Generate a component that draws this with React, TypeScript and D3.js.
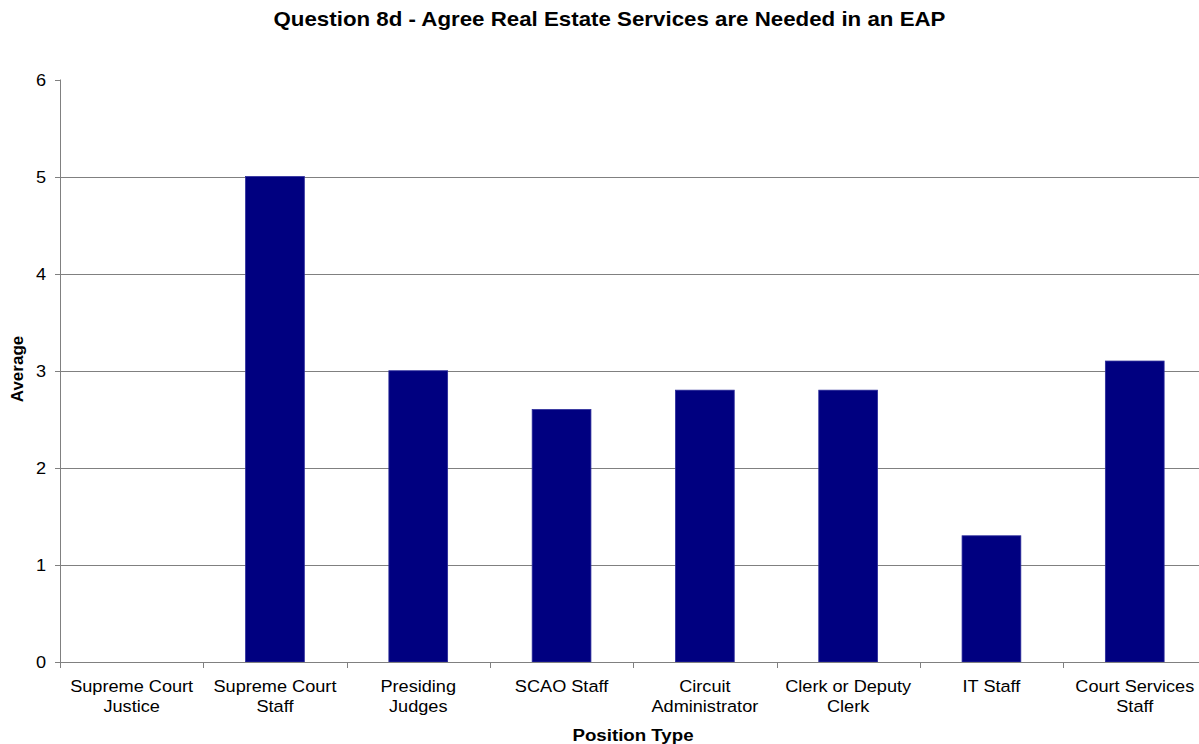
import React, { useEffect, useRef } from "react";
import * as d3 from "d3";

const categories = [
  "Supreme Court\nJustice",
  "Supreme Court\nStaff",
  "Presiding\nJudges",
  "SCAO Staff",
  "Circuit\nAdministrator",
  "Clerk or Deputy\nClerk",
  "IT Staff",
  "Court Services\nStaff",
];
const values = [0, 5, 3, 2.6, 2.8, 2.8, 1.3, 3.1];
const yTicks = [0, 1, 2, 3, 4, 5, 6];
const title = "Question 8d - Agree Real Estate Services are Needed in an EAP";
const xTitle = "Position Type";
const yTitle = "Average";

const W = 1199;
const H = 744;
const FONT = "'Liberation Sans', Arial, sans-serif";
const SX = 1.1;

export default function App() {
  const ref = useRef<SVGSVGElement>(null);
  useEffect(() => {
    document.body.style.margin = "0";
    const svg = d3.select(ref.current);
    svg.selectAll("*").remove();
    const left = 60;
    const right = 1206.4;
    const x = d3.scaleBand<string>().domain(categories).range([left, right]).padding(0);
    const y = d3.scaleLinear().domain([0, 6]).range([662, 79.5]);
    const gridColor = "#808080";

    svg.append("rect").attr("width", W).attr("height", H).attr("fill", "#fff");

    // gridlines
    svg
      .append("g")
      .selectAll("line")
      .data(yTicks.filter((t) => t > 0 && t < 6))
      .join("line")
      .attr("x1", left)
      .attr("x2", right)
      .attr("y1", (d) => Math.round(y(d)) + 0.5)
      .attr("y2", (d) => Math.round(y(d)) + 0.5)
      .attr("stroke", gridColor)
      .attr("stroke-width", 1);

    // bars
    const bw = x.bandwidth() * 0.41;
    svg
      .append("g")
      .selectAll("rect")
      .data(values.map((v, i) => ({ v, c: categories[i] })).filter((d) => d.v > 0))
      .join("rect")
      .attr("x", (d) => (x(d.c) as number) + x.bandwidth() / 2 - bw / 2)
      .attr("y", (d) => y(d.v))
      .attr("width", bw)
      .attr("height", (d) => y(0) - y(d.v))
      .attr("fill", "#000080")
      .attr("stroke", "#2a2a9a")
      .attr("stroke-width", 0.8);

    // y axis
    const ya = svg.append("g");
    ya.append("line")
      .attr("x1", left + 0.5)
      .attr("x2", left + 0.5)
      .attr("y1", y(6))
      .attr("y2", y(0))
      .attr("stroke", gridColor);
    ya.selectAll("line.t")
      .data(yTicks)
      .join("line")
      .attr("class", "t")
      .attr("x1", left - 5)
      .attr("x2", left)
      .attr("y1", (d) => Math.round(y(d)) + 0.5)
      .attr("y2", (d) => Math.round(y(d)) + 0.5)
      .attr("stroke", gridColor);
    ya.selectAll("text")
      .data(yTicks)
      .join("text")
      .attr("transform", (d) => `translate(46,${y(d) + 6}) scale(${SX},1)`)
      .attr("text-anchor", "end")
      .attr("font-family", FONT)
      .attr("font-size", 16.5)
      .attr("fill", "#000")
      .text((d) => String(d));

    // x axis
    const xa = svg.append("g");
    xa.append("line")
      .attr("x1", left)
      .attr("x2", right)
      .attr("y1", Math.round(y(0)) + 0.5)
      .attr("y2", Math.round(y(0)) + 0.5)
      .attr("stroke", gridColor);
    xa.selectAll("line.t")
      .data(d3.range(categories.length + 1))
      .join("line")
      .attr("class", "t")
      .attr("x1", (i) => Math.round(left + i * x.step()) + 0.5)
      .attr("x2", (i) => Math.round(left + i * x.step()) + 0.5)
      .attr("y1", Math.round(y(0)))
      .attr("y2", Math.round(y(0)) + 6)
      .attr("stroke", gridColor);
    const labels = xa
      .selectAll("text")
      .data(categories)
      .join("text")
      .attr("transform", (d) => `translate(${(x(d) as number) + x.bandwidth() / 2},0) scale(${SX},1)`)
      .attr("text-anchor", "middle")
      .attr("font-family", FONT)
      .attr("font-size", 16.5)
      .attr("fill", "#000");
    labels.each(function (d) {
      const t = d3.select(this);
      d.split("\n").forEach((line, i) => {
        t.append("tspan").attr("x", 0).attr("y", 692 + i * 20).text(line);
      });
    });

    // titles
    svg
      .append("text")
      .attr("transform", "translate(609.5,26) scale(1.144,1)")
      .attr("text-anchor", "middle")
      .attr("font-family", FONT)
      .attr("font-weight", "bold")
      .attr("font-size", 19.5)
      .text(title);
    svg
      .append("text")
      .attr("transform", `translate(633,741) scale(${SX},1)`)
      .attr("text-anchor", "middle")
      .attr("font-family", FONT)
      .attr("font-weight", "bold")
      .attr("font-size", 17)
      .text(xTitle);
    svg
      .append("text")
      .attr("transform", "translate(23,369) rotate(-90)")
      .attr("text-anchor", "middle")
      .attr("font-family", FONT)
      .attr("font-weight", "bold")
      .attr("font-size", 17)
      .text(yTitle);
  }, []);
  return <svg ref={ref} width={W} height={H} style={{ display: "block" }} />;
}
